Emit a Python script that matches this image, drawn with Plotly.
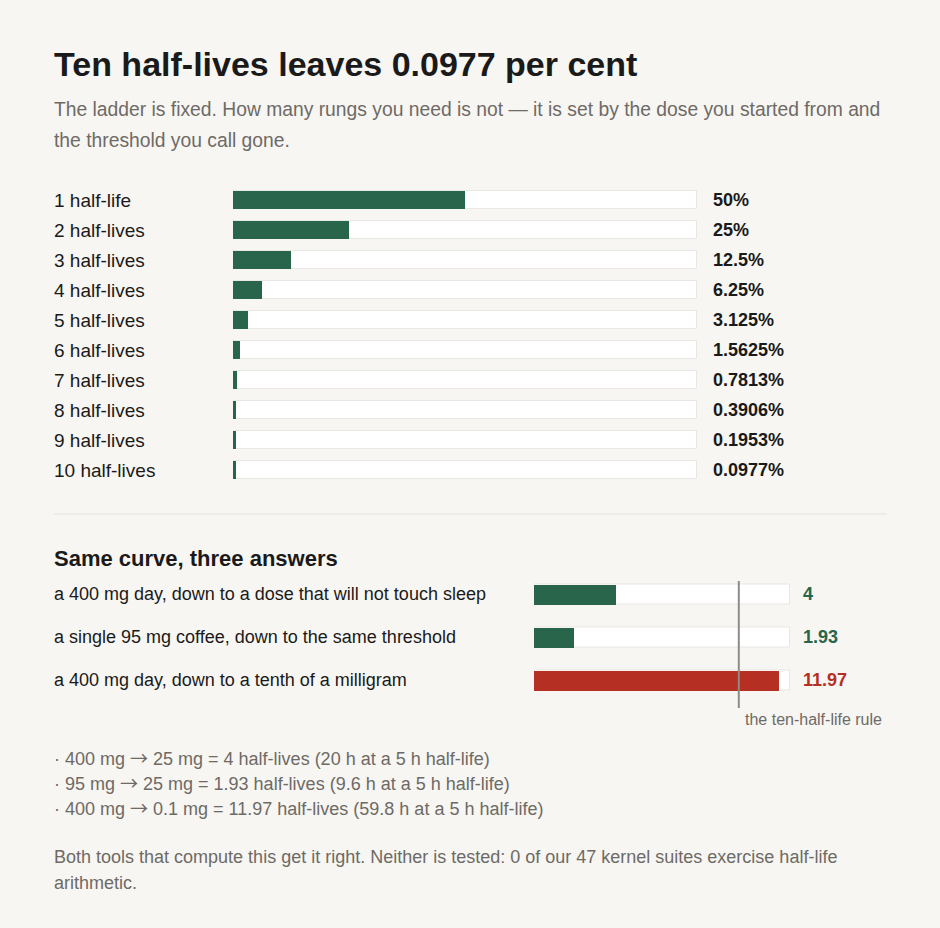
import plotly.graph_objects as go

W, H = 940, 928

# ---- data ----
ladder_labels = ["1 half-life", "2 half-lives", "3 half-lives", "4 half-lives", "5 half-lives",
                 "6 half-lives", "7 half-lives", "8 half-lives", "9 half-lives", "10 half-lives"]
ladder_values = [50, 25, 12.5, 6.25, 3.125, 1.5625, 0.7813, 0.3906, 0.1953, 0.0977]
ladder_text = ["50%", "25%", "12.5%", "6.25%", "3.125%", "1.5625%", "0.7813%", "0.3906%", "0.1953%", "0.0977%"]

case_labels = ["a 400 mg day, down to a dose that will not touch sleep",
               "a single 95 mg coffee, down to the same threshold",
               "a 400 mg day, down to a tenth of a milligram"]
case_values = [4, 1.93, 11.97]
case_text = ["4", "1.93", "11.97"]
rule_value = 10

notes = ["· 400 mg → 25 mg = 4 half-lives (20 h at a 5 h half-life)",
         "· 95 mg → 25 mg = 1.93 half-lives (9.6 h at a 5 h half-life)",
         "· 400 mg → 0.1 mg = 11.97 half-lives (59.8 h at a 5 h half-life)"]

# ---- style ----
BG = "#f7f6f2"
GREEN = "#29654a"
RED = "#b52f22"
INK = "#1a1a1a"
GREY = "#6e6a66"
TRACK_LINE = "#e9e7e4"
FONT = "Liberation Sans"
MIN_VISIBLE = 0.55  # minimum drawn width (percent) so tiny rungs stay visible
ARROW = "<span style=\"font-family:'Noto Sans CJK SC'\">→</span>"

def px(x):
    return x / W

def py(y):
    return 1 - y / H

fig = go.Figure()

# top ladder: tracks then bars
fig.add_trace(go.Bar(y=ladder_labels, x=[100] * len(ladder_labels), orientation="h",
                     marker=dict(color="white", line=dict(color=TRACK_LINE, width=1)),
                     width=0.6, xaxis="x", yaxis="y", hoverinfo="skip", showlegend=False))
fig.add_trace(go.Bar(y=ladder_labels, x=[max(v, MIN_VISIBLE) for v in ladder_values], orientation="h",
                     marker=dict(color=GREEN, line=dict(width=0)),
                     width=0.6, xaxis="x", yaxis="y", showlegend=False,
                     customdata=ladder_text, hovertemplate="%{y}: %{customdata}<extra></extra>"))

# bottom: tracks then bars
fig.add_trace(go.Bar(y=case_labels, x=[12.5] * 3, orientation="h",
                     marker=dict(color="white", line=dict(color=TRACK_LINE, width=1)),
                     width=0.465, xaxis="x2", yaxis="y2", hoverinfo="skip", showlegend=False))
fig.add_trace(go.Bar(y=case_labels, x=case_values, orientation="h",
                     marker=dict(color=[GREEN, GREEN, RED], line=dict(width=0)),
                     width=0.465, xaxis="x2", yaxis="y2", showlegend=False,
                     hovertemplate="%{y}: %{x}<extra></extra>"))

ann = []
# title & subtitle
ann.append(dict(x=px(54), y=py(64), text="<b>Ten half-lives leaves 0.0977 per cent</b>",
                font=dict(size=34, color=INK)))
ann.append(dict(x=px(54), y=py(110), text="The ladder is fixed. How many rungs you need is not — it is set by the dose you started from and",
                font=dict(size=19.3, color=GREY)))
ann.append(dict(x=px(54), y=py(140), text="the threshold you call gone.",
                font=dict(size=19.3, color=GREY)))

for lab, t in zip(ladder_labels, ladder_text):
    ann.append(dict(x=px(54), xref="paper", y=lab, yref="y", text=lab,
                    font=dict(size=19, color=INK)))
    ann.append(dict(x=px(713), xref="paper", y=lab, yref="y", text="<b>" + t + "</b>",
                    font=dict(size=18, color=INK)))

ann.append(dict(x=px(54), y=py(558), text="<b>Same curve, three answers</b>",
                font=dict(size=22, color=INK)))
for lab, t, c in zip(case_labels, case_text, [GREEN, GREEN, RED]):
    ann.append(dict(x=px(54), xref="paper", y=lab, yref="y2", text=lab,
                    font=dict(size=18, color=INK)))
    ann.append(dict(x=px(803), xref="paper", y=lab, yref="y2", text="<b>" + t + "</b>",
                    font=dict(size=18, color=c)))

ann.append(dict(x=rule_value, xref="x2", xshift=4, y=py(719), text="the ten-half-life rule",
                font=dict(size=16, color=GREY)))

for i, n in enumerate(notes):
    ann.append(dict(x=px(54), y=py(759 + 25 * i), yshift=2, text=n.replace("→", ARROW),
                    font=dict(size=18, color=GREY)))

ann.append(dict(x=px(54), y=py(857),
                text="Both tools that compute this get it right. Neither is tested: 0 of our 47 kernel suites exercise half-life",
                font=dict(size=18, color=GREY)))
ann.append(dict(x=px(54), y=py(883), text="arithmetic.", font=dict(size=18, color=GREY)))

for a in ann:
    a.setdefault("xref", "paper")
    a.setdefault("yref", "paper")
    a.setdefault("xshift", -2)
    a.update(xanchor="left", yanchor="middle", showarrow=False)

shapes = [
    dict(type="line", xref="paper", yref="paper", x0=px(54), x1=px(887), y0=py(514), y1=py(514),
         line=dict(color="#e6e3de", width=1)),
    dict(type="line", xref="x2", yref="paper", x0=rule_value, x1=rule_value, y0=py(581), y1=py(708),
         line=dict(color="#8f8c88", width=2), layer="above"),
]

fig.update_layout(
    width=W, height=H, margin=dict(l=0, r=0, t=0, b=0),
    paper_bgcolor=BG, plot_bgcolor=BG,
    font=dict(family=FONT, color=INK),
    barmode="overlay", bargap=0,
    annotations=ann, shapes=shapes,
    xaxis=dict(domain=[px(233), px(697)], range=[0, 100], visible=False, fixedrange=True),
    yaxis=dict(domain=[py(485), py(185)], autorange="reversed", visible=False, fixedrange=True),
    xaxis2=dict(domain=[px(534), px(790)], range=[0, 12.5], visible=False, anchor="y2", fixedrange=True),
    yaxis2=dict(domain=[py(701.5), py(572.5)], autorange="reversed", visible=False, anchor="x2", fixedrange=True),
)

fig.write_html(
    "out.html",
    config={"displayModeBar": False},
    post_script="document.body.style.margin='0';document.body.style.background='%s';" % BG,
)
